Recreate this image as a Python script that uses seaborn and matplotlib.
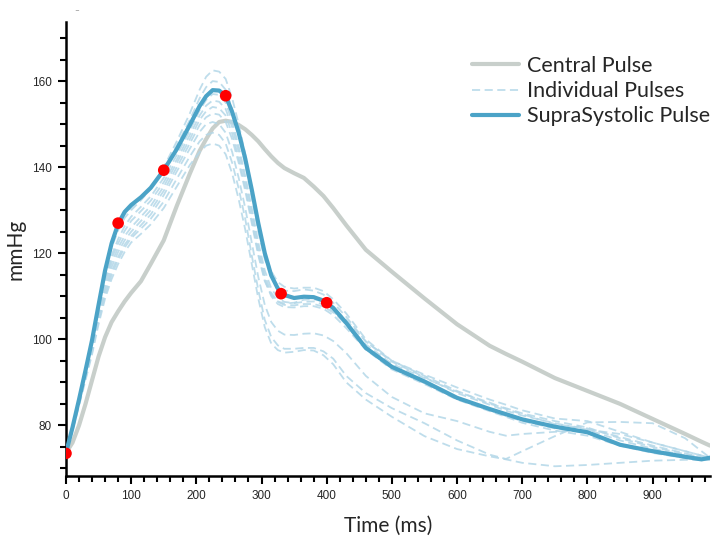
import matplotlib
matplotlib.use('Agg')
import matplotlib.pyplot as plt
from matplotlib.ticker import MultipleLocator
import seaborn as sns

# ---------------------------------------------------------------------------
# Data
# ---------------------------------------------------------------------------

time_ms = [0, 10, 20, 30, 40, 50, 60, 70, 80, 90, 100, 115, 130, 150, 170, 190,
           205, 215, 225, 235, 245, 255, 265, 275, 285, 295, 305, 315, 325, 335,
           350, 365, 380, 395, 410, 430, 460, 500, 550, 600, 650, 675, 700, 750,
           800, 850, 900, 950, 975, 988]

supra_pulse = [73.6, 79.5, 86, 92.8, 99.8, 108, 116, 122.3, 126.8, 129.6, 131.2,
               133, 135.2, 139.3, 144.2, 149.8, 154.2, 156.5, 157.9, 157.8,
               156.6, 152.8, 148, 142, 134.8, 127, 120, 114.8, 111.8, 110.3,
               109.6, 109.9, 109.8, 109, 107.3, 103.8, 98.0, 93.6, 90.2, 86.4,
               83.8, 82.6, 81.4, 79.7, 78.4, 75.5, 74.0, 72.7, 72.1, 72.5]

central_pulse = [73.6, 76, 80, 85, 90.5, 96, 100.5, 104, 106.5, 108.8, 110.8,
                 113.5, 117.5, 123, 131, 138.5, 143.8, 146.5, 149, 150.5, 150.8,
                 150.5, 149.8, 148.8, 147.5, 146, 144.2, 142.5, 141, 139.8,
                 138.6, 137.5, 135.5, 133.3, 130.5, 126.5, 120.8, 115.7, 109.5,
                 103.5, 98.5, 96.6, 94.8, 91, 88, 85, 81.5, 78, 76.2, 75.3]

individual_pulses = [
    [73.6, 79.5, 86, 92.5, 99.5, 107.5, 115.3, 121.3, 125.3, 128.2, 130, 132.3,
     135, 140, 146, 152.5, 158, 161, 162.5, 162.2, 160.5, 156, 150, 143, 135,
     126.5, 120, 115.8, 113.3, 112.2, 111.8, 112, 112, 111.2, 109.3, 106, 100,
     95, 91.5, 88, 85, 84, 82.8, 81, 79.5, 77, 75, 73.3, 72.7, 72.4],
    [73.6, 79.5, 86, 92.8, 99.8, 108, 115.8, 122, 126, 129, 130.5, 132.8, 135.2,
     139.5, 145, 151, 156, 158.6, 160, 159.8, 158, 153.5, 147.5, 140.5, 133,
     125, 118.6, 114.5, 112.3, 111.3, 111.2, 111.6, 111.3, 110.4, 108.5, 105.2,
     99.5, 94.8, 91.2, 87.5, 84.8, 83.4, 82.3, 80.5, 79, 76.5, 74.6, 73, 72.5,
     72.3],
    [73.6, 79.3, 85.5, 92, 99, 106.8, 114, 119.5, 123.3, 126.3, 128.5, 130.8,
     133.2, 137.5, 142.8, 148.5, 153.2, 155.6, 157, 156.8, 155, 150.6, 144.8,
     138, 130.5, 122.5, 116, 111.8, 109.6, 108.7, 108.4, 108.7, 108.8, 108.1,
     106.5, 103.4, 97.8, 93.2, 89.8, 86.2, 83.5, 82.2, 81, 79.3, 78.2, 75.5,
     73.8, 72.4, 72, 72],
    [73.6, 79.5, 86, 92.5, 99.3, 107, 113.8, 118.8, 122.3, 125.2, 127.5, 129.8,
     132.2, 136.5, 141.8, 147.5, 152, 154.3, 155.5, 155.2, 153.5, 149.3, 143.5,
     136.8, 129.3, 121.3, 114.8, 110.8, 108.7, 108, 107.9, 108.2, 108.2, 107.6,
     106.2, 103.6, 98.8, 94.3, 91, 87.8, 85.3, 83.8, 82.6, 80.3, 79.3, 77.3,
     75.3, 73.5, 72.6, 72.3],
    [73.6, 79.3, 85.5, 92, 98.5, 106.2, 113, 117.8, 121.3, 124, 126, 128.5, 131,
     135.5, 141, 146.5, 151, 153, 154, 153.7, 152, 147.8, 142, 135.3, 127.8,
     120, 113.8, 110, 108.2, 107.5, 107.4, 107.7, 107.7, 107.1, 105.6, 102.6,
     97.6, 93, 89.6, 86, 83.3, 82, 80.6, 78.8, 77.6, 75.3, 73.6, 72.4, 71.9, 72],
    [73.6, 79.3, 85.3, 91.5, 98, 105.5, 112, 116.8, 120.3, 123, 125, 127.5, 130,
     134.5, 140, 145.5, 149.8, 151.6, 152.5, 152.2, 150.5, 146.5, 141, 134.5,
     127, 119.5, 113.5, 110.3, 108.8, 108.3, 108.5, 109.2, 109.3, 108.8, 107.3,
     104.5, 99.5, 95, 91.8, 88.8, 86, 84.8, 83.5, 81.6, 81, 78.5, 76, 74, 73,
     72.5],
    [73.6, 79.2, 85.2, 91.3, 97.5, 105, 111.2, 115.8, 119.2, 122, 124, 126.5,
     129, 133.5, 139, 144.3, 148.2, 150, 150.5, 150, 148, 143.5, 137.5, 130.5,
     122.5, 114.5, 108, 104, 102, 101.1, 101, 101.3, 101.4, 100.9, 99.6, 96.8,
     91.5, 86.6, 82.8, 81, 78.5, 77.6, 78, 78.5, 79, 78, 76, 74, 73, 72.5],
    [73.6, 79, 85, 91, 97, 104.2, 110.3, 115, 118.5, 121.3, 123.5, 125.7, 128,
     132, 137.3, 142.5, 146, 147.5, 148, 147.5, 145.5, 141, 135, 128, 119.5,
     111.5, 104.5, 100.5, 98.6, 97.8, 97.8, 98, 98, 97.2, 95.5, 91.5, 87.5, 84,
     80.5, 76.5, 73.2, 72.2, 74, 77.5, 80.7, 80.8, 80.5, 77, 74, 72.5],
    [73.6, 78.8, 84.5, 90.5, 96.5, 103.5, 109.5, 114, 117.5, 120.3, 122.5, 124.5,
     126.7, 130.5, 135.5, 140.5, 143.5, 145, 145.5, 145, 143, 138.5, 132.5,
     125.5, 117.5, 109.5, 102.8, 99, 97.5, 96.9, 97.1, 97.5, 97.4, 96.3, 94.2,
     90, 86, 82, 77.5, 74.5, 72.8, 72.1, 71.3, 70.5, 70.8, 71.3, 71.8, 72, 72,
     72.2],
]

marker_ms   = [0, 80, 150, 245, 330, 400]
marker_mmhg = [73.5, 127, 139.3, 156.6, 110.6, 108.5]

# ---------------------------------------------------------------------------
# Plot
# ---------------------------------------------------------------------------

sns.set_style('ticks')
plt.rcParams['font.family'] = ['Lato', 'DejaVu Sans']

fig = plt.figure(figsize=(7.14, 5.40), dpi=100)
ax = fig.add_axes([0.0924, 0.119, 0.902, 0.84])

central_c = '#c8cfcb'
supra_c   = '#4ba3c7'
indiv_c   = '#b3d7e8'

sns.lineplot(x=time_ms, y=central_pulse, ax=ax, color=central_c, linewidth=3,
             label='Central Pulse', zorder=2)

for i, pulse in enumerate(individual_pulses):
    sns.lineplot(x=time_ms, y=pulse, ax=ax, color=indiv_c, linewidth=1.3,
                 linestyle=(0, (4.5, 2.5)), alpha=0.85, zorder=3,
                 label='Individual Pulses' if i == 0 else None)

sns.lineplot(x=time_ms, y=supra_pulse, ax=ax, color=supra_c, linewidth=3,
             label='SupraSystolic Pulse', zorder=4)

sns.scatterplot(x=marker_ms, y=marker_mmhg, ax=ax, color='#ff0000', s=70,
                edgecolor='none', zorder=5)

ax.set_xlim(0, 988)
ax.set_ylim(68.3, 173.7)
ax.xaxis.set_minor_locator(MultipleLocator(20))
ax.yaxis.set_major_locator(MultipleLocator(20))
ax.yaxis.set_minor_locator(MultipleLocator(5))
ax.set_xticks(range(0, 901, 100))

for lbl in ax.get_xticklabels() + ax.get_yticklabels():
    lbl.set_fontfamily('Liberation Sans')
    lbl.set_fontsize(8.5)

ax.tick_params(which='major', length=6, width=1.5, color='black', pad=4)
ax.tick_params(which='minor', length=4, width=1.5, color='black')
for side in ['left', 'bottom']:
    ax.spines[side].set_linewidth(1.8)
    ax.spines[side].set_color('black')
sns.despine(ax=ax)

ax.set_xlabel('Time (ms)', fontsize=15, labelpad=10)
ax.set_ylabel('mmHg', fontsize=15, labelpad=5)

leg = ax.legend(loc='upper left', frameon=False, fontsize=15.5,
                handlelength=2.2, handletextpad=0.37, labelspacing=0.25,
                borderpad=0, borderaxespad=0, bbox_to_anchor=(0.63, 0.926))
for h in leg.get_lines():
    if h.get_label() == 'Individual Pulses':
        h.set_linewidth(1.3)
    else:
        h.set_linewidth(3)

fig.text(77 / 714, 1 - 11 / 540, '–', fontsize=6, color='#666666',
         ha='center', va='center')

fig.savefig('out.png', dpi=100)
